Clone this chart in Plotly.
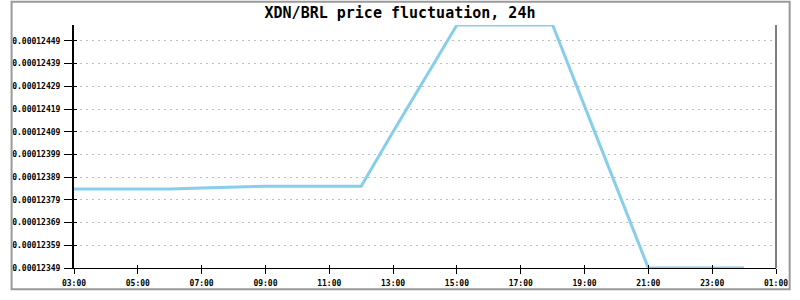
import plotly.graph_objects as go

# --- data ---
times = [
    "2024-01-01 03:00", "2024-01-01 04:00", "2024-01-01 05:00", "2024-01-01 06:00",
    "2024-01-01 07:00", "2024-01-01 08:00", "2024-01-01 09:00", "2024-01-01 10:00",
    "2024-01-01 11:00", "2024-01-01 12:00", "2024-01-01 13:00", "2024-01-01 14:00",
    "2024-01-01 15:00", "2024-01-01 16:00", "2024-01-01 17:00", "2024-01-01 18:00",
    "2024-01-01 19:00", "2024-01-01 20:00", "2024-01-01 21:00", "2024-01-01 22:00",
    "2024-01-01 23:00", "2024-01-02 00:00",
]
prices = [
    0.000123838, 0.000123838, 0.000123838, 0.000123838,
    0.000123842, 0.000123846, 0.000123850, 0.000123850,
    0.000123850, 0.000123850, 0.000124090, 0.000124325,
    0.000124560, 0.000124560, 0.000124560, 0.000124560,
    0.000124203, 0.000123847, 0.000123490, 0.000123490,
    0.000123490, 0.000123490,
]
y_ticks = [0.00012349, 0.00012359, 0.00012369, 0.00012379, 0.00012389, 0.00012399,
           0.00012409, 0.00012419, 0.00012429, 0.00012439, 0.00012449]
y_tick_labels = ["%.8f" % v for v in y_ticks]
x_range = ["2024-01-01 03:00", "2024-01-02 01:00"]
y_range = [0.00012349, 0.00012456]
title_text = "XDN/BRL price fluctuation, 24h"

W, H = 800, 300
ML, MR, MT, MB = 65, 15, 25, 23
PW, PH = W - ML - MR, H - MT - MB

tick_font = dict(family="DejaVu Sans Mono", size=8, color="black", weight="bold")

fig = go.Figure()
fig.add_trace(go.Scatter(
    x=times, y=prices, mode="lines",
    line=dict(color="#87CEEB", width=3),
    hoverinfo="skip", showlegend=False,
))
# invisible trace on overlay axes so inner tick marks are drawn
fig.add_trace(go.Scatter(
    x=times, y=prices, mode="lines", xaxis="x2", yaxis="y2",
    line=dict(color="rgba(0,0,0,0)", width=0),
    hoverinfo="skip", showlegend=False,
))

fig.update_layout(
    autosize=True,
    margin=dict(l=ML, r=MR, t=MT, b=MB, pad=0),
    paper_bgcolor="white", plot_bgcolor="white",
    title=dict(text=title_text, x=0.5, xref="container", xanchor="center",
               y=1 - 13 / H, yref="container", yanchor="middle",
               font=dict(family="DejaVu Sans Mono", size=15, color="black", weight="bold")),
    xaxis=dict(
        type="date", range=x_range,
        tick0="2024-01-01 03:00", dtick=7200000, tickformat="%H:%M",
        ticks="outside", ticklen=5, tickwidth=1, tickcolor="black",
        showline=True, linecolor="black", linewidth=1, mirror=False,
        showgrid=False, zeroline=False, tickfont=tick_font,
        ticklabelstandoff=2,
    ),
    yaxis=dict(
        range=y_range, tickvals=y_ticks, ticktext=y_tick_labels,
        ticks="outside", ticklen=8, tickwidth=1, tickcolor="black",
        showline=True, linecolor="black", linewidth=2, mirror=False,
        showgrid=True, gridcolor="#c0c0c0", gridwidth=1, griddash="2px,4px",
        zeroline=False, tickfont=tick_font, ticklabelstandoff=2,
    ),
    xaxis2=dict(
        type="date", range=x_range, overlaying="x",
        tick0="2024-01-01 03:00", dtick=7200000,
        ticks="inside", ticklen=3, tickwidth=1, tickcolor="black",
        showticklabels=False, showgrid=False, zeroline=False, showline=False,
    ),
    yaxis2=dict(
        range=y_range, overlaying="y", tickvals=y_ticks,
        ticks="inside", ticklen=3, tickwidth=1, tickcolor="black",
        showticklabels=False, showgrid=False, zeroline=False, showline=False,
    ),
    shapes=[
        # right border of plot area
        dict(type="line", xref="paper", yref="paper", x0=1, x1=1, y0=0, y1=1,
             line=dict(color="black", width=1)),
        # outer gray frame
        dict(type="rect", xref="paper", yref="paper",
             x0=(-ML + 1) / PW, x1=1 + (MR - 1) / PW,
             y0=(-MB + 1) / PH, y1=1 + (MT - 1) / PH,
             line=dict(color="#999999", width=2), fillcolor="rgba(0,0,0,0)",
             layer="above"),
    ],
)

fig.write_html(
    "out.html",
    default_width="100vw",
    default_height="100vh",
    config={"responsive": True, "displayModeBar": False},
    post_script=(
        "document.documentElement.style.margin='0';"
        "document.body.style.margin='0';document.body.style.overflow='hidden';"
        "window.dispatchEvent(new Event('resize'));"
    ),
)
